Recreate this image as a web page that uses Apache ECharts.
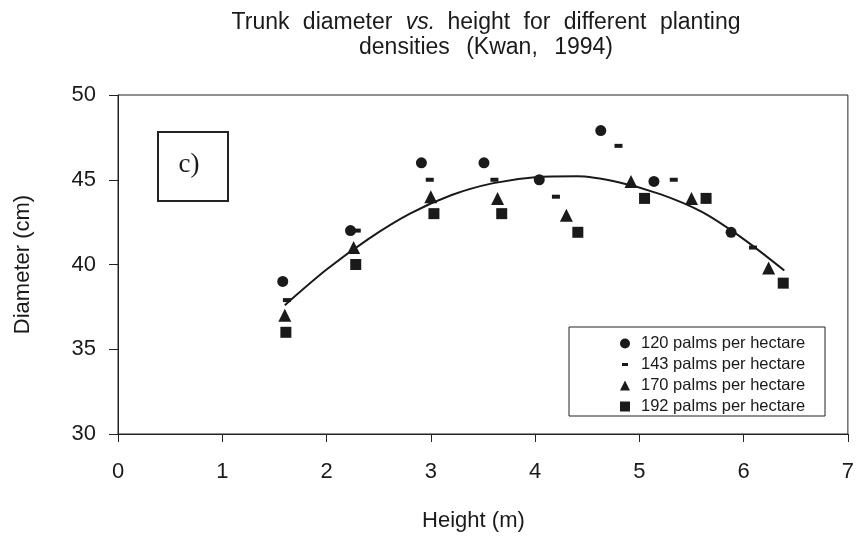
<!DOCTYPE html>
<html>
<head>
<meta charset="utf-8">
<script src="https://cdn.jsdelivr.net/npm/echarts@6/dist/echarts.min.js"></script>
<style>html,body{margin:0;padding:0;background:#fff}#c{width:857px;height:541px}</style>
</head>
<body>
<div id="c"></div>
<script>
// ---- data ----
var seriesNames = ['120 palms per hectare', '143 palms per hectare', '170 palms per hectare', '192 palms per hectare'];
var height120 = [1.58, 2.23, 2.91, 3.51, 4.04, 4.63, 5.14, 5.88];
var diam120   = [39.0, 42.0, 46.0, 46.0, 45.0, 47.9, 44.9, 41.9];
var height143 = [1.62, 2.29, 2.99, 3.61, 4.20, 4.80, 5.33, 6.09];
var diam143   = [37.9, 42.0, 45.0, 45.0, 44.0, 47.0, 45.0, 41.0];
var height170 = [1.60, 2.26, 3.00, 3.64, 4.30, 4.92, 5.50, 6.24];
var diam170   = [37.0, 41.0, 44.0, 43.9, 42.9, 44.9, 43.9, 39.8];
var height192 = [1.61, 2.28, 3.03, 3.68, 4.41, 5.05, 5.64, 6.38];
var diam192   = [36.0, 40.0, 43.0, 43.0, 41.9, 43.9, 43.9, 38.9];
var trendX = [1.6, 2.0, 2.4, 2.8, 3.2, 3.6, 4.0, 4.4, 4.8, 5.2, 5.6, 6.0, 6.39];
var trendY = [37.6, 39.7, 41.5, 43.0, 44.1, 44.8, 45.15, 45.2, 44.85, 44.15, 43.1, 41.5, 39.65];
var xTicks = [0, 1, 2, 3, 4, 5, 6, 7];
var yTicks = [30, 35, 40, 45, 50];

function pairs(xs, ys) { return xs.map(function (x, i) { return [x, ys[i]]; }); }

var FONT = "'Liberation Sans', Arial, sans-serif";
var INK = '#1a1a1a';
var dashIcon = 'path://M0,0 L0.01,0 Z M10,10 L10.01,10 Z M2,3.5 L8,3.5 L8,6.5 L2,6.5 Z';

var tBase = { fontSize: 23, lineHeight: 25, color: INK, fontFamily: FONT, fontWeight: 'normal' };
function ts(extra) { var o = {}; for (var k in tBase) o[k] = tBase[k]; for (var e in extra) o[e] = extra[e]; return o; }

var chart = echarts.init(document.getElementById('c'), null, { renderer: 'canvas' });
chart.setOption({
  backgroundColor: '#fff',
  animation: false,
  textStyle: { fontFamily: FONT, color: INK },
  title: {
    left: 486,
    top: 10,
    textAlign: 'center',
    padding: 0,
    text: '{a|Trunk }{a|diameter }{i|vs. }{a|height }{a|for }{a|different }{n|planting}\n{b|densities }{b|(Kwan, }{n|1994)}',
    textStyle: {
      fontFamily: FONT,
      fontWeight: 'normal',
      rich: {
        n: ts({}),
        a: ts({ padding: [0, 7, 0, 0] }),
        b: ts({ padding: [0, 10, 0, 0] }),
        i: ts({ fontStyle: 'italic', padding: [0, 6, 0, 0] })
      }
    }
  },
  grid: { left: 118, right: 5, top: 95, bottom: 107, show: true, borderColor: '#222', borderWidth: 1, backgroundColor: 'transparent' },
  xAxis: {
    type: 'value', min: xTicks[0], max: xTicks[xTicks.length - 1], interval: 1,
    name: 'Height (m)', nameLocation: 'middle', nameGap: 76,
    nameTextStyle: { fontSize: 22, color: INK, fontFamily: FONT, padding: [0, 19, 0, 0] },
    axisLine: { show: true, onZero: false, lineStyle: { color: '#222', width: 1 } },
    axisTick: { show: true, length: 8, inside: false, lineStyle: { color: '#222' } },
    axisLabel: { fontSize: 22, color: INK, margin: 27, fontFamily: FONT },
    splitLine: { show: false }
  },
  yAxis: {
    type: 'value', min: yTicks[0], max: yTicks[yTicks.length - 1], interval: 5,
    name: 'Diameter (cm)', nameLocation: 'middle', nameGap: 84,
    nameTextStyle: { fontSize: 22, color: INK, fontFamily: FONT },
    axisLine: { show: true, lineStyle: { color: '#222', width: 1 } },
    axisTick: { show: true, length: 9, inside: false, lineStyle: { color: '#222' } },
    axisLabel: { fontSize: 22, color: INK, margin: 22, fontFamily: FONT },
    splitLine: { show: false }
  },
  legend: {
    orient: 'vertical', left: 615, top: 330,
    itemWidth: 10, itemHeight: 10, itemGap: 4,
    textStyle: { fontSize: 16.5, lineHeight: 17, color: INK, fontFamily: FONT, padding: [0, 0, 0, 6] },
    data: [
      { name: seriesNames[0], icon: 'circle' },
      { name: seriesNames[1], icon: dashIcon },
      { name: seriesNames[2], icon: 'triangle' },
      { name: seriesNames[3], icon: 'rect' }
    ]
  },
  graphic: [
    { type: 'rect', shape: { x: 158, y: 132, width: 70, height: 69 }, style: { fill: 'none', stroke: '#222', lineWidth: 2 }, z: 10 },
    { type: 'text', x: 189, y: 165, style: { text: 'c)', fontSize: 27, fontFamily: "'Liberation Serif', 'Times New Roman', serif", fill: INK, textAlign: 'center', textVerticalAlign: 'middle' }, z: 10 },
    { type: 'rect', shape: { x: 569, y: 327, width: 256, height: 89 }, style: { fill: 'none', stroke: '#222', lineWidth: 1 }, z: 10 }
  ],
  series: [
    { name: 'trend', type: 'line', data: pairs(trendX, trendY), smooth: 0.3, showSymbol: false, symbol: 'none',
      lineStyle: { color: INK, width: 2 }, z: 1, silent: true },
    { name: seriesNames[0], type: 'scatter', data: pairs(height120, diam120), symbol: 'circle', symbolSize: 11, itemStyle: { color: INK, opacity: 1 }, z: 3 },
    { name: seriesNames[1], type: 'scatter', data: pairs(height143, diam143), symbol: 'rect', symbolSize: [8, 4], itemStyle: { color: INK, opacity: 1 }, z: 3 },
    { name: seriesNames[2], type: 'scatter', data: pairs(height170, diam170), symbol: 'triangle', symbolSize: 13, itemStyle: { color: INK, opacity: 1 }, z: 3 },
    { name: seriesNames[3], type: 'scatter', data: pairs(height192, diam192), symbol: 'rect', symbolSize: 11, itemStyle: { color: INK, opacity: 1 }, z: 3 }
  ]
});
</script>
</body>
</html>
